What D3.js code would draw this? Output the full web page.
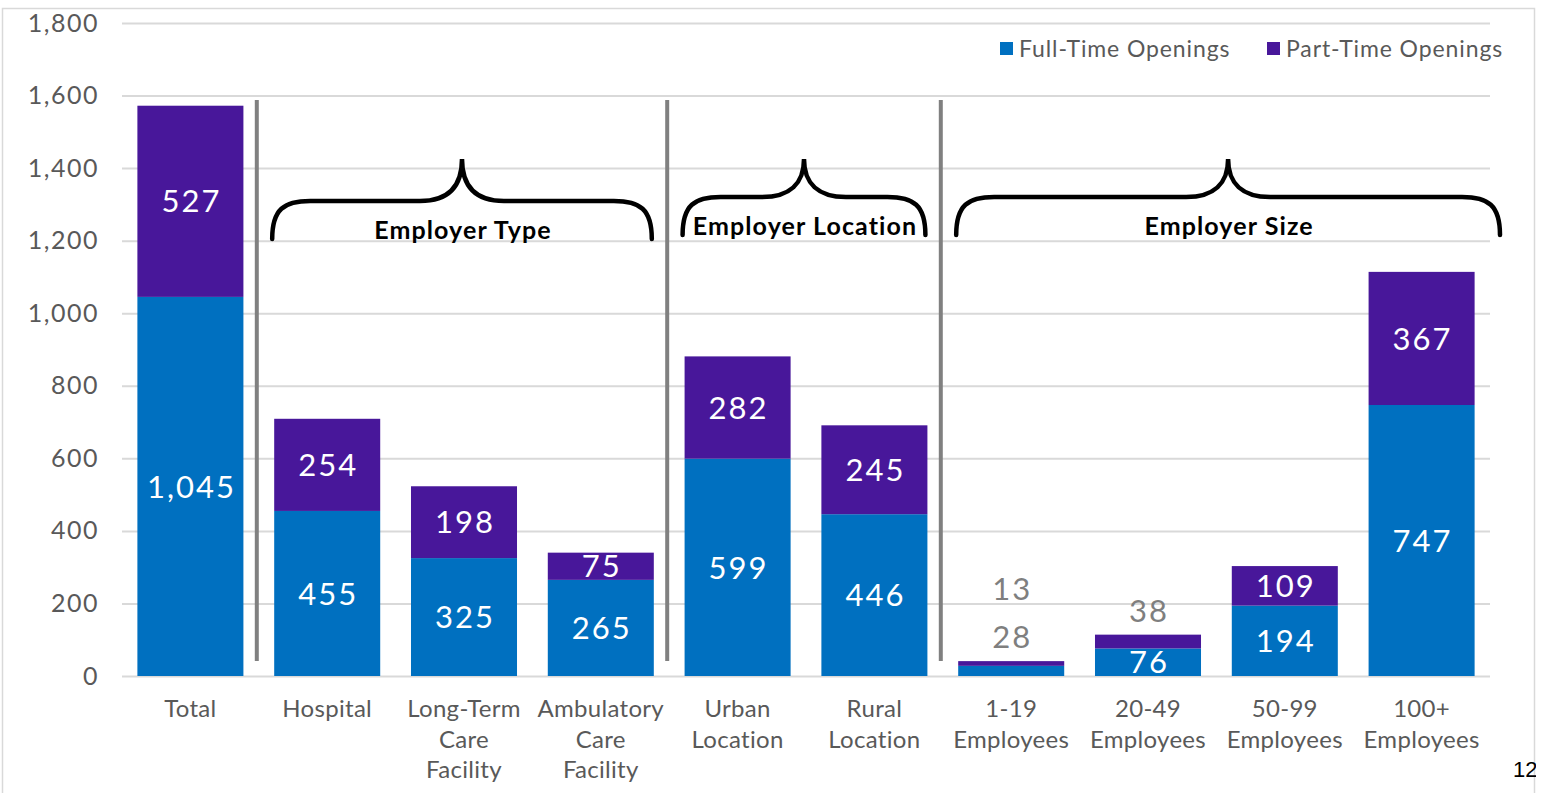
<!DOCTYPE html>
<html>
<head>
<meta charset="utf-8">
<script src="https://cdn.jsdelivr.net/npm/d3@7"></script>
<style>
  body { margin: 0; background: #fff; }
  svg { display: block; font-family: Lato, "Open Sans", sans-serif; }
</style>
</head>
<body>
<svg id="chart" width="1541" height="793"></svg>
<script>
// data
var categories = ["Total", "Hospital", "Long-Term Care Facility", "Ambulatory Care Facility",
  "Urban Location", "Rural Location", "1-19 Employees", "20-49 Employees", "50-99 Employees", "100+ Employees"];
var categoryLines = [["Total"], ["Hospital"], ["Long-Term", "Care", "Facility"], ["Ambulatory", "Care", "Facility"],
  ["Urban", "Location"], ["Rural", "Location"], ["1-19", "Employees"], ["20-49", "Employees"],
  ["50-99", "Employees"], ["100+", "Employees"]];
var fullTime = [1045, 455, 325, 265, 599, 446, 28, 76, 194, 747];
var partTime = [527, 254, 198, 75, 282, 245, 13, 38, 109, 367];
var seriesNames = ["Full-Time Openings", "Part-Time Openings"];
var seriesColors = ["#0070C0", "#48179A"];
var yTicks = [0, 200, 400, 600, 800, 1000, 1200, 1400, 1600, 1800];
var groups = [
  { label: "Employer Type", first: 1, last: 3 },
  { label: "Employer Location", first: 4, last: 5 },
  { label: "Employer Size", first: 6, last: 9 }
];
var separatorsAfter = [0, 3, 5];

var svg = d3.select("#chart");
var fmt = d3.format(",");

// frame
svg.append("rect").attr("x", 2.5).attr("y", 8.5).attr("width", 1532).attr("height", 800)
  .attr("fill", "#fff").attr("stroke", "#d9d9d9").attr("stroke-width", 1.5);

var x = d3.scaleBand().domain(categories).range([122, 1490]).paddingInner(0.225).paddingOuter(0.1125);
var y = d3.scaleLinear().domain([0, 1800]).range([676, 23]);
var bw = x.bandwidth();

// gridlines
svg.append("g").selectAll("line").data(yTicks).join("line")
  .attr("x1", 122).attr("x2", 1490)
  .attr("y1", function(d){ return y(d) + 0.5; }).attr("y2", function(d){ return y(d) + 0.5; })
  .attr("stroke", "#d9d9d9").attr("stroke-width", 2);

// y axis labels
var yAxis = d3.axisLeft(y).tickValues(yTicks).tickFormat(fmt).tickSize(0).tickPadding(0);
var yg = svg.append("g").attr("transform", "translate(99,0)").call(yAxis);
yg.select(".domain").remove();
yg.selectAll("text").attr("font-size", 25).attr("letter-spacing", 1.5)
  .attr("fill", "#595959").attr("font-family", "Lato, sans-serif");

// stacked bars
var rows = categories.map(function(c, i){ return { cat: c, full: fullTime[i], part: partTime[i] }; });
var stack = d3.stack().keys(["full", "part"])(rows);

svg.append("g").selectAll("g").data(stack).join("g")
  .attr("fill", function(d, i){ return seriesColors[i]; })
  .selectAll("rect").data(function(d){ return d; }).join("rect")
  .attr("x", function(d){ return x(d.data.cat); })
  .attr("width", bw)
  .attr("y", function(d){ return y(d[1]); })
  .attr("height", function(d){ return y(d[0]) - y(d[1]); });

// value labels
var labelG = svg.append("g").attr("font-size", 31).attr("letter-spacing", 2).attr("text-anchor", "middle");
rows.forEach(function(r, i){
  var cx = x(r.cat) + bw / 2 + 1;
  var top = y(r.full + r.part);
  var k = 0;
  stack.forEach(function(s){
    var seg = s[i];
    var h = y(seg[0]) - y(seg[1]);
    var v = seg[1] - seg[0];
    var cy, col;
    if (h >= 20) {
      cy = (y(seg[0]) + y(seg[1])) / 2;
      col = "#fff";
    } else {
      cy = top - 24 - 48 * k;
      k++;
      col = "#7f7f7f";
    }
    labelG.append("text").attr("x", cx).attr("y", cy).attr("dy", "0.36em")
      .attr("fill", col).text(fmt(v));
  });
});

// category labels
var catG = svg.append("g").attr("font-size", 24).attr("letter-spacing", 0.3)
  .attr("fill", "#595959").attr("text-anchor", "middle");
categories.forEach(function(c, i){
  var t = catG.append("text").attr("x", x(c) + bw / 2).attr("y", 717);
  categoryLines[i].forEach(function(line, j){
    t.append("tspan").attr("x", x(c) + bw / 2).attr("dy", j ? 30.5 : 0).text(line);
  });
});

// separators
svg.append("g").selectAll("line").data(separatorsAfter).join("line")
  .attr("x1", function(i){ return (x(categories[i]) + bw + x(categories[i + 1])) / 2 - 2; })
  .attr("x2", function(i){ return (x(categories[i]) + bw + x(categories[i + 1])) / 2 - 2; })
  .attr("y1", 100).attr("y2", 661)
  .attr("stroke", "#808080").attr("stroke-width", 4);

// braces
function bracePath(x0, x1, peak, yh, yEnd){
  var m = (x0 + x1) / 2;
  return "M" + x0 + "," + yEnd +
    "C" + x0 + "," + (yh + 8) + " " + (x0 + 12) + "," + yh + " " + (x0 + 38) + "," + yh +
    "L" + (m - 42) + "," + yh +
    "C" + (m - 14) + "," + yh + " " + m + "," + (yh - 14) + " " + m + "," + peak +
    "C" + m + "," + (yh - 14) + " " + (m + 14) + "," + yh + " " + (m + 42) + "," + yh +
    "L" + (x1 - 38) + "," + yh +
    "C" + (x1 - 12) + "," + yh + " " + x1 + "," + (yh + 8) + " " + x1 + "," + yEnd;
}
var braceG = svg.append("g");
groups.forEach(function(g, gi){
  var x0 = x(categories[g.first]) - 2;
  var x1 = gi === groups.length - 1 ? x.range()[1] + 10 : x(categories[g.last]) + bw - 2;
  var yh = gi === 0 ? 201 : 197;
  braceG.append("path").attr("d", bracePath(x0, x1, 159, yh, yh + 38))
    .attr("fill", "none").attr("stroke", "#000").attr("stroke-width", 4.5).attr("stroke-linecap", "round");
  braceG.append("text").attr("x", (x0 + x1) / 2 + 1).attr("y", gi === 0 ? 239 : 235)
    .attr("text-anchor", "middle").attr("font-size", 25).attr("letter-spacing", 1.1).attr("font-weight", "bold")
    .attr("fill", "#000").text(g.label);
});

// legend
var legX = [1000, 1267];
var leg = svg.append("g");
seriesNames.forEach(function(n, i){
  leg.append("rect").attr("x", legX[i]).attr("y", 42).attr("width", 13).attr("height", 13).attr("fill", seriesColors[i]);
  leg.append("text").attr("x", legX[i] + 19).attr("y", 57).attr("font-size", 23).attr("letter-spacing", 0.9)
    .attr("fill", "#595959").text(n);
});

// page number, clipped by the frame edge
svg.append("text").attr("x", 1513).attr("y", 777).attr("font-size", 22)
  .attr("font-family", "'Liberation Sans', sans-serif").attr("fill", "#000").text("12");
svg.append("rect").attr("x", 1536).attr("y", 0).attr("width", 10).attr("height", 793).attr("fill", "#fff");
</script>
</body>
</html>
